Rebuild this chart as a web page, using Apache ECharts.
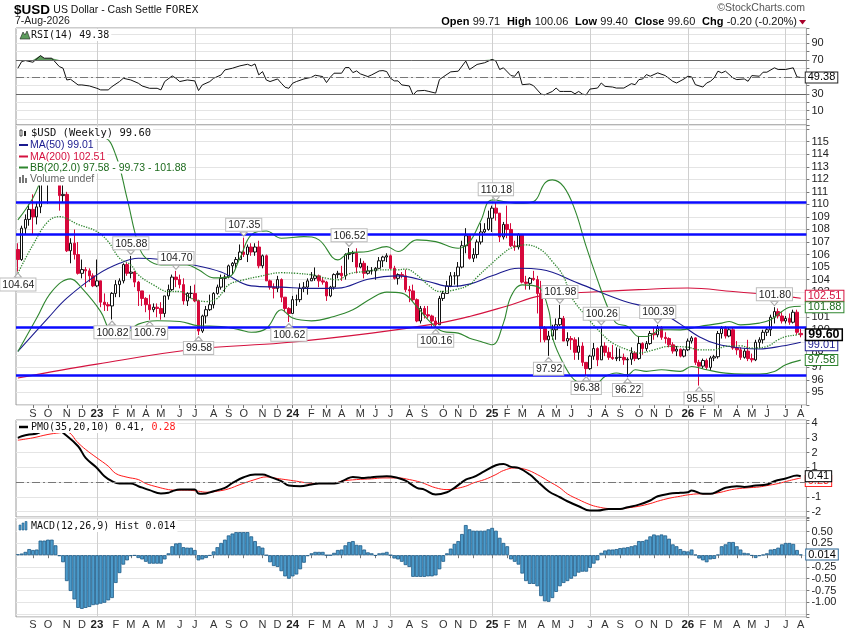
<!DOCTYPE html>
<html>
<head>
<meta charset="utf-8">
<title>$USD US Dollar - Cash Settle</title>
<script src="https://cdn.jsdelivr.net/npm/echarts@6.0.0/dist/echarts.min.js"></script>
<style>
html, body { margin: 0; padding: 0; background: #fff; }
#charts { width: 850px; height: 633px; }
</style>
</head>
<body>
<div id="charts"></div>
<script>
// weekly bars [open, close, low, high], weeks ending Friday, first bar 12-Aug-2022
var candles2022 = [
[106.4,105.6,104.64,106.9],[105.6,108.1,105.5,108.3],[108.1,108.8,107.6,109.2],[108.8,109.6,108.3,110.0],
[109.6,109.0,107.6,110.8],[109.0,109.8,108.4,110.2],[109.8,113.2,109.3,113.3],[113.2,112.1,111.6,114.78],
[112.1,112.8,110.05,112.9],[112.8,113.3,112.2,113.9],[113.3,111.9,111.7,113.9],[111.9,110.7,109.5,112.1],
[110.7,110.8,110.2,113.1],[110.8,106.3,106.2,111.0],[106.3,106.9,105.3,107.3],[106.9,106.0,105.6,108.0],
[106.0,104.5,104.4,107.0],[104.5,104.8,104.1,105.6],[104.8,104.7,103.4,105.0],[104.7,104.3,103.8,104.9],
[104.3,103.5,103.4,104.5]
];
var candles2023 = [
[103.5,103.9,103.4,105.6],[103.9,102.2,101.8,103.9],[102.2,102.0,101.5,102.9],[102.0,101.9,101.5,102.2],
[101.9,102.9,100.82,103.0],[102.9,103.6,102.6,103.96],[103.6,103.9,102.6,104.1],[103.9,105.2,103.7,105.3],
[105.2,104.5,104.3,105.36],[104.5,104.6,104.1,105.88],[104.6,103.8,103.4,104.7],[103.8,103.1,101.9,103.9],
[103.1,102.5,101.9,103.1],[102.5,102.0,101.4,102.6],[102.0,101.6,100.79,102.8],[101.6,101.8,101.4,102.1],
[101.8,101.7,101.0,102.1],[101.7,101.3,100.8,102.2],[101.3,102.7,101.0,102.7],[102.7,103.2,102.4,103.6],
[103.2,104.2,103.1,104.4],[104.2,104.0,103.4,104.70],[104.0,103.6,103.3,104.4],[103.6,102.3,102.0,104.1],
[102.3,102.9,101.9,103.0],[102.9,102.9,102.5,103.5],[102.9,102.3,102.2,103.6],[102.3,99.9,99.58,102.4],
[99.9,101.1,99.75,101.2],[101.1,101.6,100.5,101.9],[101.6,102.0,101.5,102.8],[102.0,102.9,101.7,103.0],
[102.9,103.4,102.8,103.6],[103.4,104.1,103.2,104.4],[104.1,104.2,103.0,104.4],[104.2,105.1,104.1,105.2],
[105.1,105.3,104.4,105.4],[105.3,105.6,104.9,105.8],[105.6,106.2,105.6,106.8],[106.2,106.0,105.8,107.35],
[106.0,106.6,105.4,106.8],[106.6,106.2,105.9,106.9],[106.2,106.6,105.9,106.9],[106.6,105.1,104.9,107.1],
[105.1,105.9,104.9,106.0],[105.9,103.9,103.9,106.0],[103.9,103.4,103.2,104.0],[103.4,103.3,102.5,103.7],
[103.3,104.0,103.0,104.3],[104.0,102.6,102.2,104.1],[102.6,101.7,101.4,102.6],[101.7,101.3,100.62,101.8]
];
var candles2024 = [
[101.3,102.4,101.3,102.7],[102.4,102.4,101.9,102.8],[102.4,103.3,102.2,103.7],[103.3,103.4,103.0,103.8],
[103.4,103.9,102.8,104.1],[103.9,104.1,103.9,104.6],[104.1,104.3,103.9,104.97],[104.3,103.9,103.4,104.4],
[103.9,103.8,103.6,104.2],[103.8,102.7,102.3,103.9],[102.7,103.4,102.6,103.5],[103.4,104.4,103.2,104.5],
[104.4,104.5,104.1,104.7],[104.5,104.3,103.9,105.1],[104.3,106.0,104.0,106.1],[106.0,106.1,105.6,106.52],
[106.1,106.1,105.4,106.3],[106.1,105.0,104.5,106.5],[105.0,105.3,104.9,105.7],[105.3,104.5,104.1,105.5],
[104.5,104.7,104.4,105.1],[104.7,104.7,104.4,105.0],[104.7,104.9,103.99,105.0],[104.9,105.5,104.9,105.8],
[105.5,105.8,105.0,105.9],[105.8,105.9,105.4,106.1],[105.9,104.9,104.8,106.0],[104.9,104.1,104.0,105.1],
[104.1,104.4,103.6,104.5],[104.4,104.3,104.1,104.6],[104.3,103.2,103.0,104.8],[103.2,103.1,102.2,103.5],
[103.1,102.4,102.3,103.6],[102.4,100.7,100.6,102.5],[100.7,101.7,100.5,101.9],[101.7,101.2,100.9,101.9],
[101.2,101.1,100.9,101.9],[101.1,100.7,100.2,101.2],[100.7,100.4,100.16,101.0],[100.4,102.5,100.4,102.7],
[102.5,102.9,102.3,103.1],[102.9,103.5,102.9,103.9],[103.5,104.3,103.4,104.6],[104.3,104.3,103.6,104.6],
[104.3,105.0,103.4,105.4],[105.0,106.7,104.9,107.1],[106.7,107.5,106.1,108.1],[107.5,105.7,105.6,107.5],
[105.7,106.0,105.4,106.5],[106.0,107.0,105.7,107.2],[107.0,107.8,106.8,108.5],[107.8,108.0,107.7,108.5]
];
var candles2025 = [
[108.0,108.9,107.9,109.5],[108.9,109.7,107.8,109.9],[109.7,109.3,108.7,110.18],[109.3,107.4,107.0,109.3],
[107.4,108.4,107.2,108.6],[108.4,108.0,107.3,109.9],[108.0,106.7,106.6,108.5],[106.7,106.6,106.3,107.1],
[106.6,107.6,106.4,107.7],[107.6,103.8,103.7,107.6],[103.8,103.7,103.2,104.3],[103.7,104.1,103.2,104.2],
[104.1,104.0,103.9,104.7],[104.0,102.9,101.3,104.3],[102.9,100.1,99.0,103.9],[100.1,99.2,99.0,100.3],
[99.2,99.5,97.92,99.9],[99.5,100.0,99.2,100.4],[100.0,100.4,99.2,100.9],[100.4,100.9,100.3,101.98],
[100.9,99.1,99.1,101.1],[99.1,99.3,98.7,99.8],[99.3,99.2,98.4,99.5],[99.2,98.2,97.6,99.4],
[98.2,98.7,97.6,99.4],[98.7,97.4,97.1,99.0],[97.4,96.9,96.38,97.4],[96.9,97.9,96.8,98.0],
[97.9,98.5,97.6,98.95],[98.5,97.6,97.1,98.6],[97.6,98.7,97.6,100.26],[98.7,98.2,97.9,99.0],
[98.2,97.8,97.6,98.6],[97.8,97.7,97.6,98.8],[97.7,97.8,97.5,98.6],[97.8,97.8,97.5,98.5],
[97.8,97.6,97.2,98.1],[97.6,97.65,96.22,97.8],[97.65,98.15,97.2,98.6],[98.15,97.7,97.5,98.3],
[97.7,98.9,97.6,99.5],[98.9,98.5,98.0,99.0],[98.5,98.9,98.3,99.1],[98.9,99.7,98.8,99.9],
[99.7,99.6,99.2,100.2],[99.6,100.1,99.4,100.39],[100.1,99.4,99.2,100.3],[99.4,99.3,98.9,99.8],
[99.3,98.8,98.6,99.4],[98.8,98.3,98.1,99.0],[98.3,98.45,97.9,98.7],[98.45,97.9,97.8,98.5]
];
var candles2026 = [
[97.9,98.4,97.8,98.5],[98.4,99.1,98.3,99.3],[99.1,99.35,98.9,99.5],[99.35,97.4,97.2,99.4],
[97.4,97.1,95.55,97.6],[97.1,97.55,96.9,97.7],[97.55,97.0,96.8,97.7],[97.0,97.75,96.8,97.9],
[97.75,97.85,97.5,98.0],[97.85,99.7,97.7,99.9],[99.7,100.1,99.3,100.3],[100.1,99.5,99.3,100.3],
[99.5,100.0,99.4,100.2],[100.0,98.55,98.4,100.2],[98.55,98.4,98.0,99.1],[98.4,97.8,97.6,98.6],
[97.8,98.3,97.7,98.5],[98.3,97.7,97.5,99.2],[97.7,97.6,97.4,98.1],[97.6,99.0,97.5,99.2],
[99.0,99.2,98.5,99.4],[99.2,99.8,98.9,100.0],[99.8,100.0,99.5,100.2],[100.0,101.0,99.5,101.2],
[101.0,101.45,100.5,101.8],[101.45,101.1,100.9,101.7],[101.1,100.7,100.5,101.4],[100.7,100.9,100.5,101.1],
[100.9,100.6,100.4,101.3],[100.6,101.4,100.5,101.6],[101.4,99.8,99.6,101.6],[99.71,99.60,99.40,100.06]
];

// horizontal support / resistance lines
var supportLines = [110.2, 107.6, 100.2, 96.35];
// annotated highs and lows [week, price]
var highMarks = [[30,105.88],[42,104.70],[60,107.35],[88,106.52],[127,110.18],[144,101.98],[155,100.26],[170,100.39],[201,101.80]];
var lowMarks = [[0,104.64],[25,100.82],[35,100.79],[48,99.58],[72,100.62],[111,100.16],[141,97.92],[151,96.38],[162,96.22],[181,95.55]];

// overlays, read at sample weeks [week, value]
var ma50 = [[0,98.27],[8,100.93],[13,102.52],[21,104.38],[27,105.3],[32,105.7],[38,105.6],[46,105.2],[54,104.6],[62,103.5],[70,103.4],[78,103.3],[85,103.32],[93,104.03],[101,104.3],[109,103.85],[115,103.45],[120,103.64],[126,104.3],[133,104.9],[139,104.8],[149,103.7],[160,102.4],[170,101.5],[176,100.45],[181,99.45],[186,98.84],[192,98.55],[197,98.47],[203,98.7],[208,99.01]];
var ma200 = [[0,96.15],[21,97.26],[48,98.48],[70,98.94],[94,99.73],[112,100.53],[120,101.06],[130,101.9],[139,102.7],[155,103.05],[165,103.2],[178,103.33],[190,103.05],[200,102.78],[208,102.51]];
var bbUpper = [[0,108.76],[4,110.51],[8,113.0],[12,113.8],[16,114.3],[20,115.2],[23,115.27],[26,113.94],[29,110.49],[32,106.77],[34,105.71],[38,105.17],[45,105.17],[48,104.78],[52,104.14],[56,104.22],[59,105.73],[62,107.56],[66,107.88],[70,107.3],[76,107.43],[80,107.17],[85,105.57],[88,106.13],[93,106.24],[98,106.63],[101,106.24],[106,107.17],[111,107.03],[117,106.5],[120,107.0],[123,108.7],[126,110.35],[133,110.09],[137,110.22],[140,111.69],[142,111.95],[145,111.41],[148,109.56],[151,106.63],[154,103.98],[157,101.59],[159,100.53],[162,100.26],[165,99.46],[167,99.46],[171,100.0],[176,99.99],[181,100.26],[187,100.53],[189,100.66],[192,100.39],[197,100.53],[200,100.79],[203,101.46],[205,101.8],[208,101.88]];
var bbMid = [[0,104.51],[4,106.77],[8,108.63],[11,109.02],[16,108.4],[21,107.83],[24,107.03],[27,105.71],[30,105.17],[32,104.38],[36,103.58],[40,103.05],[43,103.05],[46,102.52],[50,102.25],[53,102.52],[56,103.58],[60,103.98],[64,104.24],[70,104.55],[74,104.5],[78,104.38],[82,104.11],[85,103.98],[88,104.46],[92,104.64],[96,104.78],[101,104.78],[103,104.84],[106,104.38],[109,103.58],[112,103.05],[116,103.18],[120,103.6],[122,104.2],[125,105.04],[129,106.1],[131,106.5],[135,106.77],[139,106.37],[142,105.44],[145,104.24],[147,102.65],[151,101.06],[155,99.73],[158,98.94],[162,98.4],[165,98.14],[169,98.4],[173,98.67],[178,98.61],[181,98.4],[185,98.4],[188,98.67],[192,98.72],[195,98.54],[199,98.67],[202,99.2],[204,99.46],[207,99.6],[208,99.73]];
var bbLower = [[0,98.27],[5,100.93],[9,103.05],[14,104.06],[17,103.32],[22,101.45],[24,100.13],[26,99.38],[29,99.73],[32,100.45],[37,100.72],[43,100.66],[48,100.32],[54,100.26],[59,99.99],[62,99.8],[66,100.1],[70,101.6],[73,100.93],[78,100.71],[84,101.06],[89,101.59],[94,102.52],[98,103.0],[102,102.92],[106,101.85],[109,100.79],[113,99.86],[117,99.73],[120,99.33],[123,99.07],[126,98.8],[129,100.53],[131,102.65],[134,103.58],[138,103.45],[141,101.59],[142,99.46],[144,97.87],[147,96.27],[149,95.75],[151,95.48],[154,95.75],[156,96.27],[159,96.55],[162,96.41],[164,96.81],[167,96.68],[171,96.81],[176,96.68],[179,97.07],[183,96.81],[188,96.54],[193,96.46],[197,96.46],[201,96.68],[204,97.21],[208,97.58]];

// RSI(14)
var rsi = [[0,60.3],[1,68.2],[2,69.4],[4,67.4],[6,75.3],[7,72.2],[9,72.2],[11,62.3],[12,60.3],[13,46.4],[14,47.2],[16,40.5],[17,40.5],[19,39.3],[21,36.5],[22,34.6],[24,34.6],[25,38.5],[27,44.5],[28,48.4],[30,46.4],[32,42.5],[33,39.3],[35,36.5],[37,36.5],[38,34.6],[39,44.5],[41,51.2],[42,48.4],[43,44.5],[45,46.4],[47,45.3],[48,33.8],[49,40.5],[51,44.5],[52,48.4],[54,52.4],[55,58.3],[57,60.3],[59,63.1],[61,65.0],[62,63.1],[63,65.4],[64,52.4],[65,56.3],[66,46.4],[67,44.5],[69,47.6],[70,42.5],[71,37.7],[72,36.5],[73,42.5],[74,44.5],[76,47.6],[78,49.6],[79,52.0],[81,50.4],[82,43.3],[83,49.6],[84,54.4],[86,54.4],[87,61.1],[88,61.1],[89,55.1],[90,57.1],[91,53.6],[93,50.4],[94,52.4],[96,57.1],[97,57.5],[98,56.3],[99,48.4],[100,45.3],[101,45.3],[102,40.5],[104,39.3],[105,28.6],[106,33.4],[108,34.0],[109,33.0],[111,30.8],[112,46.8],[113,50],[115,56],[117,56.8],[119,68.8],[120,58.8],[122,64.8],[124,66.8],[126,70.8],[127,68.8],[128,58.8],[129,60.8],[131,51.6],[132,50.8],[133,56.8],[134,40.8],[136,41.6],[137,39.6],[139,29.6],[140,28.8],[142,32.8],[143,36.8],[144,32.8],[145,32.8],[147,32.8],[148,30],[149,32.8],[150,29.6],[151,28.8],[152,35.6],[154,36.8],[155,42.8],[156,38.8],[158,38],[159,36.8],[161,36.8],[163,42],[164,40.8],[165,46.8],[166,47.6],[167,52.8],[168,50.8],[170,54.8],[172,51.6],[174,44.8],[175,42.8],[177,47.6],[178,50.8],[179,50],[180,40.8],[182,38],[183,42.8],[184,44.8],[185,48.8],[186,56.8],[187,54.8],[188,56.8],[190,48.8],[191,46.8],[193,47.6],[194,44.8],[195,51.6],[197,50.8],[198,55.6],[199,55.6],[201,60.8],[202,58.8],[204,58.8],[206,60.8],[207,50],[208,49.38]];
var rsiTicks = [10, 30, 50, 70, 90];

// PMO(35,20,10) and its signal line
var pmo = [[0,3.01],[1,3.12],[3,3.24],[5,3.30],[8,3.7],[10,3.75],[12,3.35],[16,2.44],[18,1.65],[21,0.97],[23,0.41],[25,0.07],[27,-0.09],[30,-0.09],[32,-0.27],[35,-0.54],[38,-0.77],[40,-0.72],[41,-0.61],[43,-0.50],[47,-0.50],[48,-0.77],[49,-0.79],[52,-0.61],[55,-0.38],[57,-0.05],[60,0.34],[63,0.52],[65,0.52],[67,0.36],[70,0.07],[72,-0.23],[75,-0.27],[78,-0.16],[80,-0.09],[83,-0.09],[85,-0.05],[87,0.18],[89,0.36],[92,0.29],[94,0.34],[98,0.41],[101,0.29],[103,0.11],[106,-0.38],[108,-0.50],[111,-0.84],[114,-0.68],[116,-0.38],[119,0.18],[121,0.34],[124,0.75],[127,1.15],[129,1.24],[131,1.04],[133,0.97],[136,0.52],[138,0.07],[141,-0.61],[144,-1.02],[146,-1.29],[149,-1.63],[152,-1.92],[154,-1.92],[157,-1.81],[160,-1.81],[162,-1.70],[165,-1.52],[168,-1.24],[170,-0.95],[173,-0.79],[176,-0.72],[178,-0.68],[179,-0.57],[182,-0.79],[184,-0.79],[186,-0.61],[188,-0.38],[191,-0.27],[193,-0.32],[196,-0.23],[199,-0.16],[201,0.07],[204,0.25],[207,0.45],[208,0.41]];
var pmoSignal = [[0,2.85],[4,3.01],[8,3.24],[11,3.35],[13,3.4],[16,2.67],[18,2.22],[21,1.65],[24,1.09],[26,0.59],[29,0.34],[32,0.18],[34,-0.09],[37,-0.32],[40,-0.50],[42,-0.54],[45,-0.54],[48,-0.61],[50,-0.68],[53,-0.61],[56,-0.45],[59,-0.16],[63,0.18],[66,0.36],[69,0.25],[71,0.18],[74,0.07],[77,-0.05],[80,-0.09],[84,-0.09],[86,0.07],[90,0.18],[94,0.23],[97,0.29],[101,0.29],[104,0.18],[107,0],[108,-0.09],[111,-0.38],[114,-0.50],[116,-0.45],[119,-0.27],[121,-0.05],[124,0.18],[127,0.52],[129,0.79],[132,0.97],[135,0.86],[138,0.52],[141,0.07],[144,-0.38],[146,-0.79],[149,-1.18],[152,-1.52],[154,-1.67],[157,-1.79],[160,-1.81],[162,-1.74],[165,-1.63],[168,-1.45],[170,-1.29],[173,-1.09],[176,-0.95],[178,-0.86],[181,-0.79],[183,-0.79],[186,-0.72],[189,-0.54],[191,-0.45],[194,-0.38],[197,-0.32],[199,-0.23],[202,-0.09],[205,0.11],[207,0.23],[208,0.28]];

// MACD(12,26,9) histogram, one value per week
var macdHist = [
0.02,0.035,0.07,0.13,0.11,0.12,0.31,0.31,0.33,0.33,
0.21,-0.02,-0.15,-0.55,-0.76,-0.94,-1.12,-1.14,-1.12,-1.10,
-1.06,-1.05,-1.03,-1.01,-0.96,-0.91,-0.59,-0.38,-0.20,-0.11,
-0.02,-0.01,-0.06,-0.09,-0.14,-0.18,-0.18,-0.18,-0.18,-0.09,
0.04,0.19,0.25,0.26,0.17,0.16,0.16,0.11,-0.11,-0.09,
-0.06,-0.01,0.08,0.17,0.26,0.33,0.42,0.46,0.49,0.49,
0.49,0.49,0.40,0.30,0.19,0.16,0.00,-0.15,-0.23,-0.25,
-0.34,-0.45,-0.50,-0.45,-0.41,-0.30,-0.16,-0.02,0.04,0.07,
0.07,0.07,0.00,0.00,0.05,0.11,0.12,0.21,0.28,0.30,
0.22,0.21,0.12,0.06,0.04,-0.01,0.04,0.05,0.07,0.00,
-0.07,-0.09,-0.14,-0.21,-0.25,-0.46,-0.46,-0.46,
-0.46,-0.45,-0.45,-0.43,-0.30,-0.14,
0.04,0.14,0.24,0.30,0.45,0.64,
0.55,0.52,0.52,0.52,0.52,0.55,0.58,0.52,
0.37,0.26,0.19,-0.09,
-0.14,-0.20,-0.39,-0.55,
-0.61,-0.61,-0.66,-0.87,-0.98,-0.99,
-0.91,-0.78,-0.66,-0.59,-0.55,-0.50,
-0.45,-0.37,-0.35,-0.35,-0.27,-0.18,-0.11,
0.05,0.10,0.12,0.12,0.13,0.15,0.16,0.17,0.19,0.21,
0.30,0.30,0.33,0.40,0.44,0.42,0.44,0.42,
0.35,0.23,0.19,0.13,0.09,0.08,0.12,
0.01,-0.07,-0.11,-0.15,-0.09,-0.08,0.01,
0.19,0.23,0.28,0.28,0.19,0.12,
0.05,0.04,-0.01,-0.06,-0.02,0.01,
0.04,0.12,0.13,0.16,0.23,0.26,0.26,0.24,0.11,0.014
];

var candles = candles2022.concat(candles2023, candles2024, candles2025, candles2026);
var n = candles.length;
var last = n - 1;

// one category per Friday, plus one empty slot on the right
var dates = [];
var monday = [];
var t0 = Date.UTC(2022, 7, 12);
for (var i = 0; i <= n; i++) {
    var d = new Date(t0 + i * 7 * 86400000);
    dates.push(d.toISOString().slice(0, 10));
    monday.push(new Date(d.getTime() - 4 * 86400000));
}
var MONTHS = 'JFMAMJJASOND';
function monthStart(i) {
    return i > 0 && i < n && monday[i].getUTCMonth() !== monday[i - 1].getUTCMonth();
}
function halfYear(i) {
    if (!monthStart(i)) return false;
    var m = monday[i].getUTCMonth();
    return m === 0 || m === 6;
}
function monthLabel(value, i) {
    var m = monday[i].getUTCMonth();
    if (m === 0) return '{y|' + String(monday[i].getUTCFullYear()).slice(2) + '}';
    return MONTHS.charAt(m);
}

var CANDLE_RED = '#d6083b';
var GREEN = '#2f862f';
var NAVY = '#1b1b8f';
var CRIMSON = '#d4123f';
var L = 16, R = 43.6;

function xAxisFor(g, showLabels, margin) {
    return {
        type: 'category', gridIndex: g, data: dates, boundaryGap: true,
        axisLine: {show: false},
        axisTick: {show: showLabels, interval: function (i) { return monthStart(i); }, alignWithLabel: true, length: 3, lineStyle: {color: '#777'}},
        axisLabel: {
            show: showLabels, interval: function (i) { return monthStart(i); }, formatter: monthLabel,
            color: '#333', fontSize: 11, fontFamily: 'Liberation Sans', margin: margin,
            rich: {y: {fontWeight: 'bold', fontSize: 11.5, color: '#222', fontFamily: 'Liberation Sans'}}
        },
        splitLine: {show: true, alignWithLabel: true, interval: function (i) { return halfYear(i); }, lineStyle: {color: '#cfcfcf', width: 1}}
    };
}
function yAxisFor(g, min, max, step, fmt) {
    return {
        type: 'value', gridIndex: g, position: 'right', min: min, max: max,
        minInterval: step, maxInterval: step, splitNumber: Math.round((max - min) / step),
        axisLine: {show: false},
        axisTick: {show: true, length: 3, lineStyle: {color: '#777'}},
        axisLabel: {formatter: fmt, color: '#222', fontSize: 11, fontFamily: 'Liberation Sans', margin: 5},
        splitLine: {show: true, lineStyle: {color: '#e4e4e4'}}
    };
}
function near(v, s) { return Math.abs(v / s - Math.round(v / s)) < 1e-6; }
function boxLabel(text, color, textColor, dy) {
    return {
        show: true, formatter: text, color: textColor || color, fontSize: 11, lineHeight: 10, fontFamily: 'Liberation Sans',
        backgroundColor: '#fff', borderColor: color, borderWidth: 1, padding: [0, 2, 0, 2], distance: 5,
        offset: [0, dy || 0]
    };
}
function overlay(name, data, color, width, type, g, endText, endColor, dy) {
    var s = {
        name: name, type: 'line', xAxisIndex: g, yAxisIndex: g, data: data,
        smooth: 0.4, showSymbol: false, symbol: 'none', silent: true,
        lineStyle: {color: color, width: width, type: type}
    };
    if (endText) s.endLabel = boxLabel(endText, color, endColor, dy);
    return s;
}

var annotations = [];
highMarks.forEach(function (h) {
    annotations.push({
        name: h[1].toFixed(2), coord: [dates[h[0]], h[1]], symbol: 'triangle', symbolSize: [7, 4],
        symbolRotate: 180, symbolOffset: [0, -3.5], itemStyle: {color: '#fff', borderColor: '#aaa', borderWidth: 1},
        label: {position: 'top', distance: 1}
    });
});
lowMarks.forEach(function (p) {
    annotations.push({
        name: p[1].toFixed(2), coord: [dates[p[0]], p[1]], symbol: 'triangle', symbolSize: [7, 4],
        symbolOffset: [0, 3.5], itemStyle: {color: '#fff', borderColor: '#aaa', borderWidth: 1},
        label: {position: 'bottom', distance: 1}
    });
});
annotations.push({
    name: candles[last][1].toFixed(2), coord: [dates[last], candles[last][1]], symbol: 'rect', symbolSize: 1,
    itemStyle: {color: 'rgba(0,0,0,0)'},
    label: {position: 'right', distance: 5, fontWeight: 'bold', fontSize: 12.5, lineHeight: 10, color: '#000',
        borderColor: '#000', borderWidth: 1.5, padding: [0, 2, 0, 2]}
});

var myChart = echarts.init(document.getElementById('charts'));
var option = {
    animation: false,
    backgroundColor: '#fff',
    textStyle: {fontFamily: 'Liberation Sans'},
    grid: [
        {left: L, right: R, top: 28, height: 97, show: true, borderColor: '#9a9a9a', backgroundColor: '#fff'},
        {left: L, right: R, top: 125, height: 280, show: true, borderColor: '#9a9a9a'},
        {left: L, right: R, top: 420, height: 97, show: true, borderColor: '#9a9a9a'},
        {left: L, right: R, top: 518, height: 99, show: true, borderColor: '#9a9a9a'}
    ],
    xAxis: [xAxisFor(0, false, 0), xAxisFor(1, true, 3), xAxisFor(2, false, 0), xAxisFor(3, true, 2)],
    yAxis: [
        yAxisFor(0, -7, 108, 10, function (v) { return near(v, 1) && rsiTicks.indexOf(Math.round(v)) >= 0 ? String(Math.round(v)) : ''; }),
        yAxisFor(1, 94, 116.33, 1, function (v) { return near(v, 1) && v >= 95 && v <= 115 ? String(Math.round(v)) : ''; }),
        yAxisFor(2, -2.36, 4.22, 1, function (v) { return near(v, 1) ? String(Math.round(v)) : ''; }),
        yAxisFor(3, -1.313, 0.79, 0.25, function (v) { return near(v, 0.25) && v >= -1.001 && v <= 0.501 && Math.abs(v) > 1e-6 ? v.toFixed(2) : ''; })
    ],
    series: [
        {
            name: 'RSI fill', type: 'line', xAxisIndex: 0, yAxisIndex: 0, silent: true, symbol: 'none',
            data: rsi.map(function (p) { return [p[0], Math.max(p[1], 70)]; }),
            lineStyle: {width: 0}, areaStyle: {origin: 70, color: '#5d9c5d', opacity: 1}
        },
        {
            name: 'RSI(14)', type: 'line', xAxisIndex: 0, yAxisIndex: 0, data: rsi, symbol: 'none', silent: true,
            lineStyle: {color: '#111', width: 1},
            endLabel: boxLabel('49.38', '#222', '#000'),
            markLine: {
                silent: true, symbol: 'none', label: {show: false},
                data: [
                    {yAxis: 70, lineStyle: {color: '#666', width: 1, type: 'solid'}},
                    {yAxis: 30, lineStyle: {color: '#666', width: 1, type: 'solid'}},
                    {yAxis: 50, lineStyle: {color: '#777', width: 1, type: [8, 3, 2, 3]}}
                ]
            }
        },
        overlay('MA(200)', ma200, CRIMSON, 1.1, 'solid', 1, '102.51', null, -2.5),
        overlay('MA(50)', ma50, NAVY, 1.1, 'solid', 1, '99.01', null, 3),
        overlay('BB upper', bbUpper, GREEN, 1.1, 'solid', 1, '101.88', '#1d6b1d', 1),
        overlay('BB lower', bbLower, GREEN, 1.1, 'solid', 1, '97.58', '#1d6b1d'),
        overlay('BB mid', bbMid, GREEN, 1.3, 'dotted', 1),
        {
            name: '$USD', type: 'candlestick', xAxisIndex: 1, yAxisIndex: 1, data: candles, barWidth: 3,
            itemStyle: {color: '#fff', color0: CANDLE_RED, borderColor: '#111', borderColor0: CANDLE_RED, borderWidth: 1},
            markLine: {
                silent: true, symbol: 'none', label: {show: false},
                lineStyle: {color: '#0a0aff', width: 2.5, type: 'solid'},
                data: supportLines.map(function (v) { return {yAxis: v}; })
            },
            markPoint: {
                silent: true,
                label: {
                    show: true, formatter: '{b}', color: '#222', fontSize: 10.5, lineHeight: 11, fontFamily: 'Liberation Sans',
                    backgroundColor: '#fff', borderColor: '#bdbdbd', borderWidth: 1, padding: [1, 1, 0, 2]
                },
                data: annotations
            }
        },
        {
            name: 'PMO signal', type: 'line', xAxisIndex: 2, yAxisIndex: 2, data: pmoSignal, smooth: 0.4,
            symbol: 'none', silent: true, lineStyle: {color: '#ff1a1a', width: 1},
            endLabel: boxLabel('0.28', '#ff1a1a', '#ff1a1a', 3),
            markLine: {
                silent: true, symbol: 'none', label: {show: false},
                data: [{yAxis: 0, lineStyle: {color: '#777', width: 1, type: [8, 3, 2, 3]}}]
            }
        },
        {
            name: 'PMO', type: 'line', xAxisIndex: 2, yAxisIndex: 2, data: pmo, smooth: 0.4,
            symbol: 'none', silent: true, lineStyle: {color: '#000', width: 2},
            endLabel: boxLabel('0.41', '#000', '#000')
        },
        {
            name: 'MACD Hist', type: 'bar', xAxisIndex: 3, yAxisIndex: 3, data: macdHist, barCategoryGap: '0%', silent: true,
            itemStyle: {color: '#4c9bcb', borderColor: '#1e5a86', borderWidth: 0.8},
            markPoint: {
                silent: true, symbol: 'rect', symbolSize: 1, itemStyle: {color: 'rgba(0,0,0,0)'},
                label: {show: true, position: 'right', distance: 5, formatter: '{b}', color: '#000', fontSize: 11, lineHeight: 10,
                    fontFamily: 'Liberation Sans', backgroundColor: '#fff', borderColor: '#2a6796', borderWidth: 1, padding: [0, 2, 0, 2]},
                data: [{name: '0.014', coord: [dates[last], macdHist[last]]}]
            }
        }
    ],
    graphic: [
        {type: 'text', x: 14, y: 3, z: 100, style: {
            text: '{a|$USD} {b|US Dollar - Cash Settle} {c|FOREX}', verticalAlign: 'top',
            rich: {
                a: {fontSize: 13.5, fontWeight: 'bold', fontFamily: 'Liberation Sans', fill: '#000'},
                b: {fontSize: 10.5, fontFamily: 'Liberation Sans', fill: '#111'},
                c: {fontSize: 11, fontFamily: 'DejaVu Sans Mono', fill: '#111'}
            }
        }},
        {type: 'text', x: 15, y: 16, z: 100, style: {text: '7-Aug-2026', fontSize: 10.5, fontFamily: 'Liberation Sans', fill: '#222', verticalAlign: 'top'}},
        {type: 'text', x: 805, y: 3, z: 100, style: {text: '\u00A9StockCharts.com', align: 'right', verticalAlign: 'top', fontSize: 10.5, fontFamily: 'Liberation Sans', fill: '#555'}},
        {type: 'text', x: 797, y: 16, z: 100, style: {
            text: '{k|Open} {v|99.71}  {k|High} {v|100.06}  {k|Low} {v|99.40}  {k|Close} {v|99.60}  {k|Chg} {v|-0.20 (-0.20%)}',
            align: 'right', verticalAlign: 'top',
            rich: {
                k: {fontSize: 11, fontWeight: 'bold', fontFamily: 'Liberation Sans', fill: '#000'},
                v: {fontSize: 11, fontFamily: 'Liberation Sans', fill: '#111'}
            }
        }},
        {type: 'polygon', z: 100, shape: {points: [[799, 20], [806, 20], [802.5, 24.5]]}, style: {fill: '#a8002a'}},

        // RSI legend
        {type: 'text', x: 17, y: 29, z: 100, style: {text: 'RSI(14) 49.38', fontSize: 10, fontFamily: 'DejaVu Sans Mono', fill: '#111', verticalAlign: 'top', backgroundColor: '#fff', padding: [1, 2, 1, 14]}},
        {type: 'polygon', z: 101, shape: {points: [[20, 39], [23, 32], [25, 35], [27, 31], [30, 39]]}, style: {fill: '#5d9c5d', stroke: '#222', lineWidth: 0.6}},

        // price legend
        {type: 'text', x: 17, y: 127, z: 100, style: {text: '$USD (Weekly) 99.60', fontSize: 10.5, fontFamily: 'DejaVu Sans Mono', fill: '#111', verticalAlign: 'top', backgroundColor: '#fff', padding: [1, 2, 0, 14]}},
        {type: 'rect', z: 101, shape: {x: 20, y: 130, width: 2, height: 6}, style: {fill: '#fff', stroke: '#222', lineWidth: 0.8}},
        {type: 'rect', z: 101, shape: {x: 24, y: 131, width: 2, height: 5}, style: {fill: '#222'}},
        {type: 'text', x: 17, y: 139, z: 100, style: {text: 'MA(50) 99.01', fontSize: 10.5, fontFamily: 'Liberation Sans', fill: NAVY, verticalAlign: 'top', backgroundColor: '#fff', padding: [1, 2, 0, 13]}},
        {type: 'line', z: 101, shape: {x1: 19, y1: 145, x2: 28, y2: 145}, style: {stroke: NAVY, lineWidth: 2}},
        {type: 'text', x: 17, y: 150.5, z: 100, style: {text: 'MA(200) 102.51', fontSize: 10.5, fontFamily: 'Liberation Sans', fill: CRIMSON, verticalAlign: 'top', backgroundColor: '#fff', padding: [1, 2, 0, 13]}},
        {type: 'line', z: 101, shape: {x1: 19, y1: 156.5, x2: 28, y2: 156.5}, style: {stroke: CRIMSON, lineWidth: 2}},
        {type: 'text', x: 17, y: 161.5, z: 100, style: {text: 'BB(20,2.0) 97.58 - 99.73 - 101.88', fontSize: 10.5, fontFamily: 'Liberation Sans', fill: '#1d6b1d', verticalAlign: 'top', backgroundColor: '#fff', padding: [1, 2, 0, 13]}},
        {type: 'line', z: 101, shape: {x1: 19, y1: 167.5, x2: 28, y2: 167.5}, style: {stroke: GREEN, lineWidth: 2}},
        {type: 'text', x: 17, y: 172.5, z: 100, style: {text: 'Volume undef', fontSize: 10.5, fontFamily: 'Liberation Sans', fill: '#666', verticalAlign: 'top', backgroundColor: '#fff', padding: [1, 2, 1, 13]}},
        {type: 'rect', z: 101, shape: {x: 19, y: 177, width: 2, height: 6}, style: {fill: '#777'}},
        {type: 'rect', z: 101, shape: {x: 22, y: 175, width: 2, height: 8}, style: {fill: '#777'}},
        {type: 'rect', z: 101, shape: {x: 25, y: 178, width: 2, height: 5}, style: {fill: '#777'}},

        // PMO legend
        {type: 'text', x: 17, y: 421, z: 100, style: {
            text: '{k|PMO(35,20,10) 0.41, }{r|0.28}', verticalAlign: 'top', backgroundColor: '#fff', padding: [1, 2, 1, 14],
            rich: {k: {fontSize: 10, fontFamily: 'DejaVu Sans Mono', fill: '#111'}, r: {fontSize: 10, fontFamily: 'DejaVu Sans Mono', fill: '#ff1a1a'}}
        }},
        {type: 'line', z: 101, shape: {x1: 19, y1: 427, x2: 28, y2: 427}, style: {stroke: '#000', lineWidth: 2.5}},

        // MACD legend
        {type: 'text', x: 17, y: 520, z: 100, style: {text: 'MACD(12,26,9) Hist 0.014', fontSize: 10, fontFamily: 'DejaVu Sans Mono', fill: '#111', verticalAlign: 'top', backgroundColor: '#fff', padding: [1, 2, 1, 14]}},
        {type: 'rect', z: 101, shape: {x: 19, y: 525, width: 2, height: 5}, style: {fill: '#4c9bcb', stroke: '#1e5a86', lineWidth: 0.6}},
        {type: 'rect', z: 101, shape: {x: 22, y: 523, width: 2, height: 7}, style: {fill: '#4c9bcb', stroke: '#1e5a86', lineWidth: 0.6}},
        {type: 'rect', z: 101, shape: {x: 25, y: 521.5, width: 2, height: 8.5}, style: {fill: '#4c9bcb', stroke: '#1e5a86', lineWidth: 0.6}}
    ]
};
myChart.setOption(option);
</script>
</body>
</html>
